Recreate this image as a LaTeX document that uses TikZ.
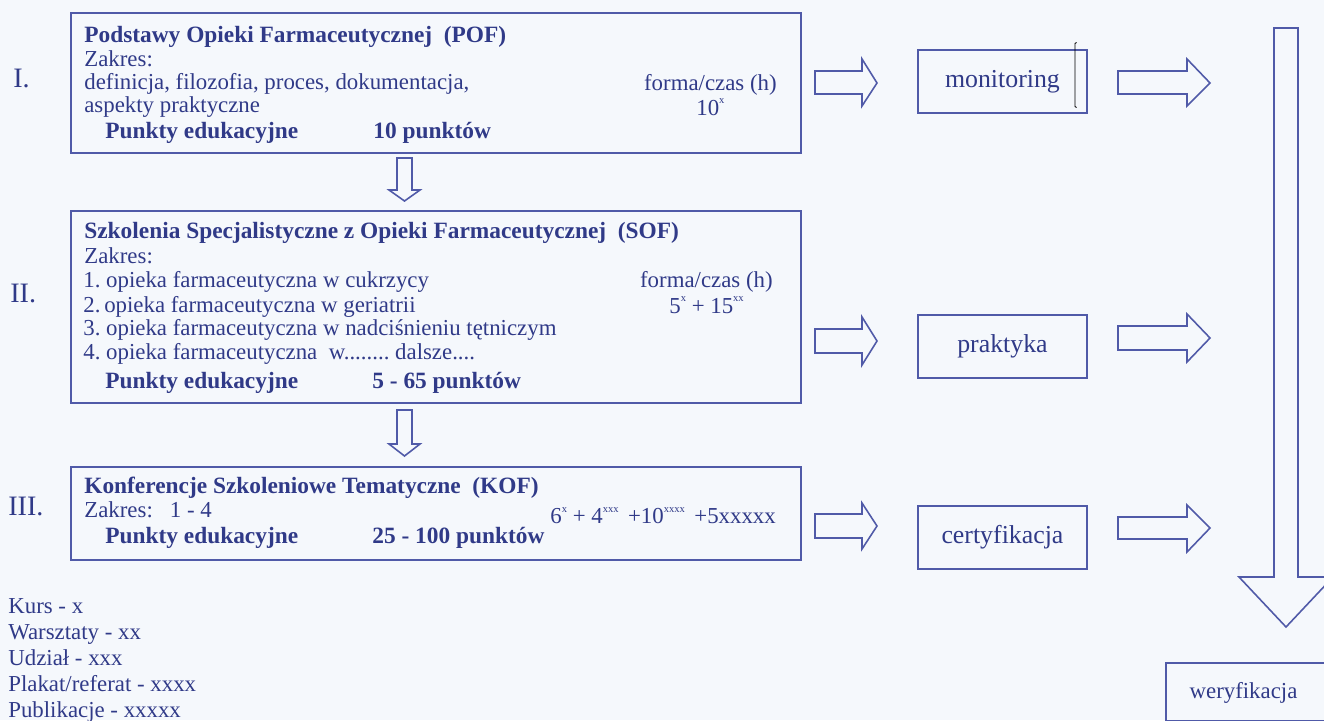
\documentclass[tikz,border=0pt]{standalone}
\usepackage{fontspec}
\setmainfont{Liberation Serif}
\usetikzlibrary{calc}
\frenchspacing

\definecolor{bgcol}{RGB}{245,248,252}
\definecolor{linecol}{RGB}{80,90,168}
\definecolor{textcol}{RGB}{48,58,136}

\tikzset{
    box/.style={draw=linecol, line width=1.1pt, anchor=north west, inner sep=0pt},
    blockarrow/.style={draw=linecol, line width=0.9pt, line join=miter},
    txt/.style={anchor=base west, inner sep=0pt, text=textcol, font=\fontsize{13}{14}\selectfont},
    head/.style={txt, font=\fontsize{13.3}{14}\selectfont\bfseries},
    roman/.style={txt, font=\fontsize{16}{16}\selectfont},
    stage/.style={box, text=textcol, font=\fontsize{14.7}{15}\selectfont, minimum width=3.38cm, minimum height=1.26cm}
}

\newcommand{\up}[1]{\raisebox{1.05ex}{\fontsize{6}{6}\selectfont #1}}

\begin{document}
\begin{tikzpicture}[x=0.02cm, y=-0.02cm]
    \fill[bgcol] (0,0) rectangle (1324,720);
    \useasboundingbox (0,0) rectangle (1324,720);
    \clip (0,0) rectangle (1324,720);

    % three levels of training
    \node[box, minimum width=14.6cm, minimum height=2.8cm] (pof) at (70,12) {};
    \node[box, minimum width=14.6cm, minimum height=3.84cm] (sof) at (70,210) {};
    \node[box, minimum width=14.6cm, minimum height=1.86cm] (kof) at (70,466) {};

    \node[roman] (r1) at (13,87) {I.};
    \node[roman] (r2) at (10,302) {II.};
    \node[roman] (r3) at (8,515) {III.};

    % level I
    \node[head] (pof title) at (84,42) {Podstawy Opieki Farmaceutycznej \ (POF)};
    \node[txt] (pof zakres) at (84,66) {Zakres:};
    \node[txt] (pof l1) at (84,89) {definicja, filozofia, proces, dokumentacja,};
    \node[txt] (pof l2) at (84,112) {aspekty praktyczne};
    \node[head] (pof pkt) at (105,138) {Punkty edukacyjne};
    \node[head] (pof pktval) at (373,138) {10 punktów};
    \node[txt, anchor=base east] (pof forma) at (777,90) {forma/czas (h)};
    \node[txt] (pof czas) at (696,115) {10\up{x}};

    % level II
    \node[head] (sof title) at (84,238) {Szkolenia Specjalistyczne z Opieki Farmaceutycznej \ (SOF)};
    \node[txt] (sof zakres) at (84,263) {Zakres:};
    \node[txt] (sof l1) at (83,287) {1. opieka farmaceutyczna w cukrzycy};
    \node[txt] (sof l2) at (83,312) {2.\,opieka farmaceutyczna w geriatrii};
    \node[txt] (sof l3) at (83,335) {3. opieka farmaceutyczna w nadciśnieniu tętniczym};
    \node[txt] (sof l4) at (83,359) {4. opieka farmaceutyczna \ w........ dalsze....};
    \node[head] (sof pkt) at (105,388) {Punkty edukacyjne};
    \node[head] (sof pktval) at (372,388) {5 - 65 punktów};
    \node[txt, anchor=base east] (sof forma) at (773,287) {forma/czas (h)};
    \node[txt] (sof czas) at (669,313) {5\up{x} + 15\up{xx}};

    % level III
    \node[head] (kof title) at (84,493) {Konferencje Szkoleniowe Tematyczne \ (KOF)};
    \node[txt] (kof zakres) at (84,517) {Zakres:\ \ \ 1 - 4};
    \node[head] (kof pkt) at (105,543) {Punkty edukacyjne};
    \node[head] (kof pktval) at (372,543) {25 - 100 punktów};
    \node[txt] (kof czas) at (550,523) {6\up{x} + 4\up{xxx} \,+10\up{xxxx} \,+5xxxxx};

    % legend
    \node[txt] (leg1) at (8,613) {Kurs - x};
    \node[txt] (leg2) at (8,639) {Warsztaty - xx};
    \node[txt] (leg3) at (8,665) {Udział - xxx};
    \node[txt] (leg4) at (8,691) {Plakat/referat - xxxx};
    \node[txt] (leg5) at (8,717) {Publikacje - xxxxx};

    % outcomes
    \node[stage] (monitoring) at (917,49) {monitoring};
    \node[stage] (praktyka) at (917,314) {praktyka};
    \node[stage] (certyfikacja) at (917,505) {certyfikacja};
    \node[box, minimum width=3.3cm, minimum height=1.15cm] (wer) at (1165,662) {};
    \node[txt, anchor=base] (wer label) at (1243.5,698) {weryfikacja};

    \draw[black, line width=0.5pt] (1076.5,42.5) -- (1075,43.5) -- (1075,106.5) -- (1076.5,107.5);

    % down arrows between levels
    \draw[blockarrow] (397,158) -- (412,158) -- (412,190) -- (420,190) -- (404.5,201) -- (389,190) -- (397,190) -- cycle;
    \draw[blockarrow] (397,410) -- (412,410) -- (412,444) -- (420,444) -- (404.5,456) -- (389,444) -- (397,444) -- cycle;

    % arrows into the outcomes
    \draw[blockarrow] (815,71) -- (862,71) -- (862,59) -- (877,83) -- (862,106) -- (862,94) -- (815,94) -- cycle;
    \draw[blockarrow] (815,329) -- (862,329) -- (862,317) -- (877,341) -- (862,365) -- (862,353) -- (815,353) -- cycle;
    \draw[blockarrow] (815,514) -- (862,514) -- (862,503) -- (877,526) -- (862,549) -- (862,538) -- (815,538) -- cycle;

    % arrows out of the outcomes
    \draw[blockarrow] (1118,71) -- (1187,71) -- (1187,59) -- (1210,83) -- (1187,106) -- (1187,94) -- (1118,94) -- cycle;
    \draw[blockarrow] (1118,326) -- (1187,326) -- (1187,314) -- (1210,338) -- (1187,362) -- (1187,350) -- (1118,350) -- cycle;
    \draw[blockarrow] (1118,517) -- (1187,517) -- (1187,505) -- (1210,528) -- (1187,552) -- (1187,539) -- (1118,539) -- cycle;

    % long arrow down to verification
    \draw[blockarrow] (1274,28) -- (1298,28) -- (1298,577) -- (1333,577) -- (1286,627) -- (1239,577) -- (1274,577) -- cycle;
\end{tikzpicture}
\end{document}
